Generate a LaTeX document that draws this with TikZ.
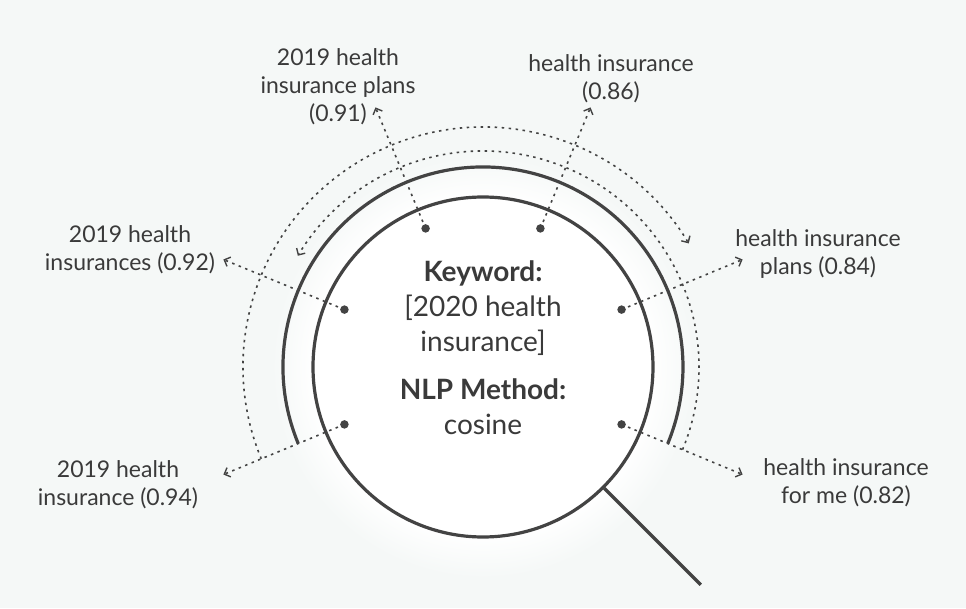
\documentclass[tikz,border=0pt]{standalone}
\usepackage{fontspec}
\setmainfont{Lato}
\usetikzlibrary{arrows.meta}
\definecolor{bg}{HTML}{F5F8F7}
\definecolor{ink}{HTML}{434343}
\definecolor{txt}{HTML}{3A3A3A}
\pgfdeclareradialshading{halo}{\pgfpoint{0bp}{0bp}}{color(0bp)=(white); color(17.5bp)=(white); color(22bp)=(bg); color(50bp)=(bg)}
\begin{document}
\begin{tikzpicture}[x=1pt,y=1pt,
  thickline/.style={line width=3.2pt, draw=ink},
  dotline/.style={draw=ink, line width=1.6pt, dash pattern=on 2.5pt off 4.5pt},
  arr/.style={dotline, -{Straight Barb[length=5pt,width=10pt,line width=1.4pt]}},
  dotnode/.style={circle, fill=ink, inner sep=0pt, minimum size=8.5pt},
  lbl/.style={align=center, text=txt, font=\fontsize{23}{28}\selectfont},
  lens/.style={circle, draw=ink, line width=3.2pt, minimum size=340pt, inner sep=0pt},
]
\path[fill=bg] (-483,-241) rectangle (483,367);
\useasboundingbox (-483,-241) rectangle (483,367);
\shade[shading=halo] (0,0) circle (240);

% lens
\node[lens] (lens) at (0,0) {};
\draw[thickline] (202.5:200) arc[start angle=202.5, end angle=-22.5, radius=200];
\coordinate (hend) at (-45:308);
\draw[thickline] (lens.-45) -- (hend);

% dotted arcs
\draw[arr] (202.5:240) arc[start angle=202.5, end angle=31, radius=240];
\draw[arr] (-22.5:216) arc[start angle=-22.5, end angle=149, radius=216];

% dots and radial arrows
\foreach \i/\a in {1/202.5,2/157.5,3/112.5,4/67.5,5/22.5,6/-22.5}{
  \node[dotnode] (d\i) at (\a:150) {};
  \coordinate (e\i) at (\a:281);
  \draw[arr] (d\i.center) -- (e\i);
}

% center text
\node[align=center, text=txt, font=\fontsize{28}{35}\selectfont] (kw) at (0,19)
  {\textbf{Keyword:}\\{[}2020 health\\insurance{]}\\[13pt]\textbf{NLP Method:}\\cosine};

% labels
\node[lbl] (l1) at (-365,-118) {2019 health\\insurance (0.94)};
\node[lbl] (l2) at (-353,117) {2019 health\\insurances (0.92)};
\node[lbl] (l3) at (-145,280) {2019 health\\insurance plans\\(0.91)};
\node[lbl] (l4) at (128,288) {health insurance\\(0.86)};
\node[lbl] (l5) at (335,112.5) {health insurance\\plans (0.84)};
\node[lbl] (l6) at (363,-116) {health insurance\\for me (0.82)};
\end{tikzpicture}
\end{document}
